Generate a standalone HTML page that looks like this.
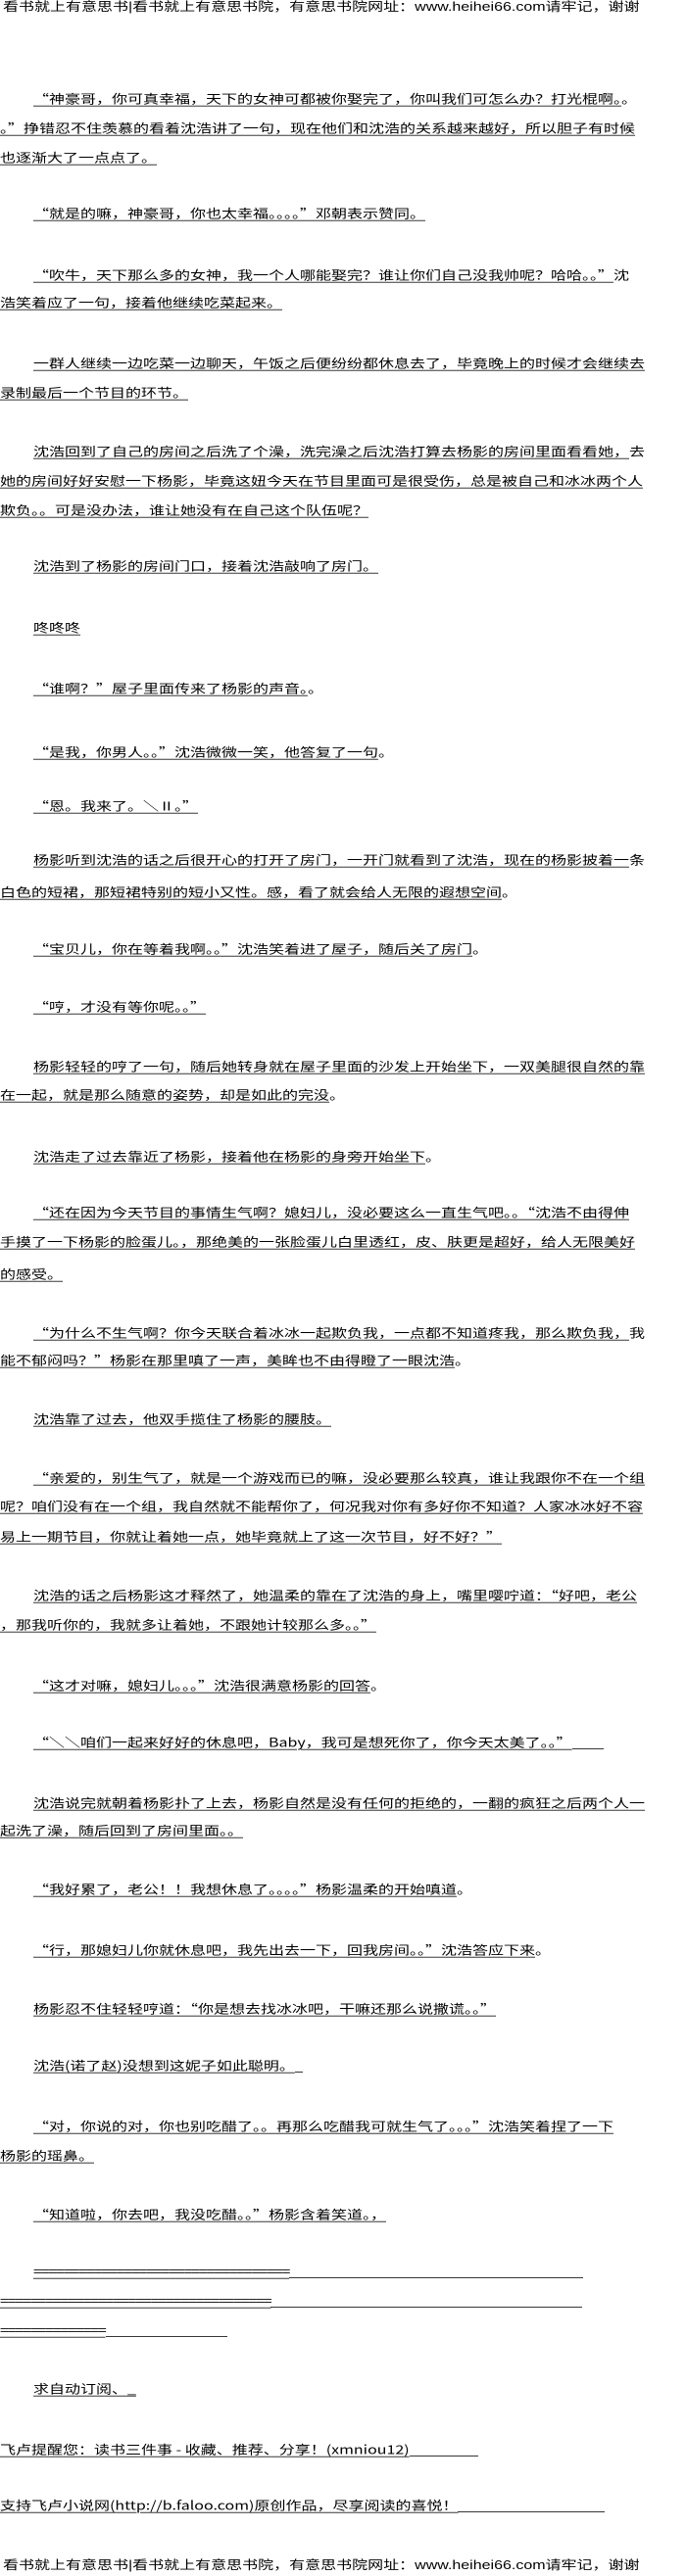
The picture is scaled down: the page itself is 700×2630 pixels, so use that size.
<!DOCTYPE html>
<html><head><meta charset="utf-8"><style>
html,body{margin:0;padding:0;background:#fff;}
body{width:700px;height:2630px;position:relative;overflow:hidden;font-family:"Noto Sans CJK SC","WenQuanYi Zen Hei","Liberation Sans",sans-serif;color:#000;}
.l{position:absolute;left:0;height:20px;line-height:20px;font-size:16px;white-space:nowrap;letter-spacing:0;transform:scaleY(0.78);transform-origin:left center;}
.l span{text-decoration:underline;text-decoration-thickness:1px;text-underline-offset:3px;}
.i{left:34px;}
.sp{display:inline-block;border-bottom:1px solid #000;height:1px;vertical-align:-3px;}
.h{left:3px;letter-spacing:0;font-family:"Liberation Sans","Noto Sans CJK SC",sans-serif;}
</style></head><body>
<div class="l h" style="top:-2px">看书就上有意思书|看书就上有意思书院，有意思书院网址：www.heihei66.com请牢记，谢谢</div>

<div class="l i" style="top:90px"><span>“神豪哥，你可真幸福，天下的女神可都被你娶完了，你叫我们可怎么办？打光棍啊。</span>。</div>
<div class="l" style="top:120px"><span>。”挣错忍不住羡慕的看着沈浩讲了一句，现在他们和沈浩的关系越来越好，所以胆子有时候</span></div>
<div class="l" style="top:150px"><span>也逐渐大了一点点了。</span></div>

<div class="l i" style="top:207px"><span>“就是的嘛，神豪哥，你也太幸福。。。。”邓朝表示赞同。</span></div>

<div class="l i" style="top:270px"><span>“吹牛，天下那么多的女神，我一个人哪能娶完？谁让你们自己没我帅呢？哈哈。。”</span>沈</div>
<div class="l" style="top:298px"><span>浩笑着应了一句，接着他继续吃菜起来。</span></div>

<div class="l i" style="top:360px"><span>一群人继续一边吃菜一边聊天，午饭之后便纷纷都休息去了，毕竟晚上的时候才会继续去</span></div>
<div class="l" style="top:390px"><span>录制最后一个节目的环节。</span></div>

<div class="l i" style="top:450px"><span>沈浩回到了自己的房间之后洗了个澡，洗完澡之后沈浩打算去杨影的房间里面看看她，</span>去</div>
<div class="l" style="top:480px"><span>她的房间好好安慰一下杨影，毕竟这妞今天在节目里面可是很受伤，总是被自己和冰冰两个人</span></div>
<div class="l" style="top:510px"><span>欺负。。可是没办法，谁让她没有在自己这个队伍呢？</span></div>

<div class="l i" style="top:567px"><span>沈浩到了杨影的房间门口，接着沈浩敲响了房门。</span></div>

<div class="l i" style="top:630px"><span>咚咚咚</span></div>

<div class="l i" style="top:692px"><span>“谁啊？”屋子里面传来了杨影的声音。</span>。</div>

<div class="l i" style="top:757px"><span>“是我，你男人。。”沈浩微微一笑，他答复了一句</span>。</div>

<div class="l i" style="top:812px"><span>“恩。我来了。＼Ⅱ。”</span></div>

<div class="l i" style="top:867px"><span>杨影听到沈浩的话之后很开心的打开了房门，一开门就看到了沈浩，现在的杨影披着一</span>条</div>
<div class="l" style="top:900px"><span>白色的短裙，那短裙特别的短小又性。感，看了就会给人无限的遐想空间</span>。</div>

<div class="l i" style="top:958px"><span>“宝贝儿，你在等着我啊。。”沈浩笑着进了屋子，随后关了房门</span>。</div>

<div class="l i" style="top:1017px"><span>“哼，才没有等你呢。。”</span></div>

<div class="l i" style="top:1078px"><span>杨影轻轻的哼了一句，随后她转身就在屋子里面的沙发上开始坐下，一双美腿很自然的靠</span></div>
<div class="l" style="top:1107px"><span>在一起，就是那么随意的姿势，却是如此的完没</span>。</div>

<div class="l i" style="top:1170px"><span>沈浩走了过去靠近了杨影，接着他在杨影的身旁开始坐下</span>。</div>

<div class="l i" style="top:1227px"><span>“还在因为今天节目的事情生气啊？媳妇儿，没必要这么一直生气吧。。“沈浩不由得伸</span></div>
<div class="l" style="top:1257px"><span>手摸了一下杨影的脸蛋儿。，那绝美的一张脸蛋儿白里透红，皮、肤更是超好，给人无限美好</span></div>
<div class="l" style="top:1290px"><span>的感受。</span></div>

<div class="l i" style="top:1350px"><span>“为什么不生气啊？你今天联合着冰冰一起欺负我，一点都不知道疼我，那么欺负我，</span>我</div>
<div class="l" style="top:1378px"><span>能不郁闷吗？”杨影在那里嗔了一声，美眸也不由得瞪了一眼沈浩</span>。</div>

<div class="l i" style="top:1438px"><span>沈浩靠了过去，他双手揽住了杨影的腰肢。</span></div>

<div class="l i" style="top:1498px"><span>“亲爱的，别生气了，就是一个游戏而已的嘛，没必要那么较真，谁让我跟你不在一个组</span></div>
<div class="l" style="top:1527px"><span>呢？咱们没有在一个组，我自然就不能帮你了，何况我对你有多好你不知道？人家冰冰好不容</span></div>
<div class="l" style="top:1558px"><span>易上一期节目，你就让着她一点，她毕竟就上了这一次节目，好不好？”</span></div>

<div class="l i" style="top:1618px"><span>沈浩的话之后杨影这才释然了，她温柔的靠在了沈浩的身上，嘴里嘤咛道：“好吧，老公</span></div>
<div class="l" style="top:1648px"><span>，那我听你的，我就多让着她，不跟她计较那么多。。”</span></div>

<div class="l i" style="top:1710px"><span>“这才对嘛，媳妇儿。。。”沈浩很满意杨影的回答</span>。</div>

<div class="l i" style="top:1768px"><span>“＼＼咱们一起来好好的休息吧，Baby，我可是想死你了，你今天太美了。。”</span><span class="sp" style="width:32px"></span></div>

<div class="l i" style="top:1830px"><span>沈浩说完就朝着杨影扑了上去，杨影自然是没有任何的拒绝的，一翻的疯狂之后两个人一</span></div>
<div class="l" style="top:1858px"><span>起洗了澡，随后回到了房间里面。。</span></div>

<div class="l i" style="top:1918px"><span>“我好累了，老公！！我想休息了。。。。”杨影温柔的开始嗔道</span>。</div>

<div class="l i" style="top:1980px"><span>“行，那媳妇儿你就休息吧，我先出去一下，回我房间。。”沈浩答应下来</span>。</div>

<div class="l i" style="top:2040px"><span>杨影忍不住轻轻哼道：“你是想去找冰冰吧，干嘛还那么说撒谎。。”</span></div>

<div class="l i" style="top:2098px"><span>沈浩(诺了赵)没想到这妮子如此聪明。</span><span class="sp" style="width:8px"></span></div>

<div class="l i" style="top:2160px"><span>“对，你说的对，你也别吃醋了。。再那么吃醋我可就生气了。。。”沈浩笑着捏了一下</span></div>
<div class="l" style="top:2190px"><span>杨影的瑶鼻。</span></div>

<div class="l i" style="top:2250px"><span>“知道啦，你去吧，我没吃醋。。”杨影含着笑道。，</span></div>

<div class="l i" style="top:2308px;letter-spacing:-1.2px"><span>==================================</span><span class="sp" style="width:300px"></span></div>
<div class="l" style="top:2338px;letter-spacing:-1.2px"><span>====================================</span><span class="sp" style="width:318px"></span></div>
<div class="l" style="top:2368px;letter-spacing:-1.2px"><span>==============</span><span class="sp" style="width:124px"></span></div>

<div class="l i" style="top:2428px"><span>求自动订阅、_</span></div>

<div class="l" style="top:2490px"><span>飞卢提醒您：读书三件事 - 收藏、推荐、分享！(xmniou12)</span><span class="sp" style="width:70px"></span></div>

<div class="l" style="top:2547px"><span>支持飞卢小说网(http://b.faloo.com)原创作品，尽享阅读的喜悦！</span><span class="sp" style="width:150px"></span></div>

<div class="l h" style="top:2610px">看书就上有意思书|看书就上有意思书院，有意思书院网址：www.heihei66.com请牢记，谢谢</div>
</body></html>
